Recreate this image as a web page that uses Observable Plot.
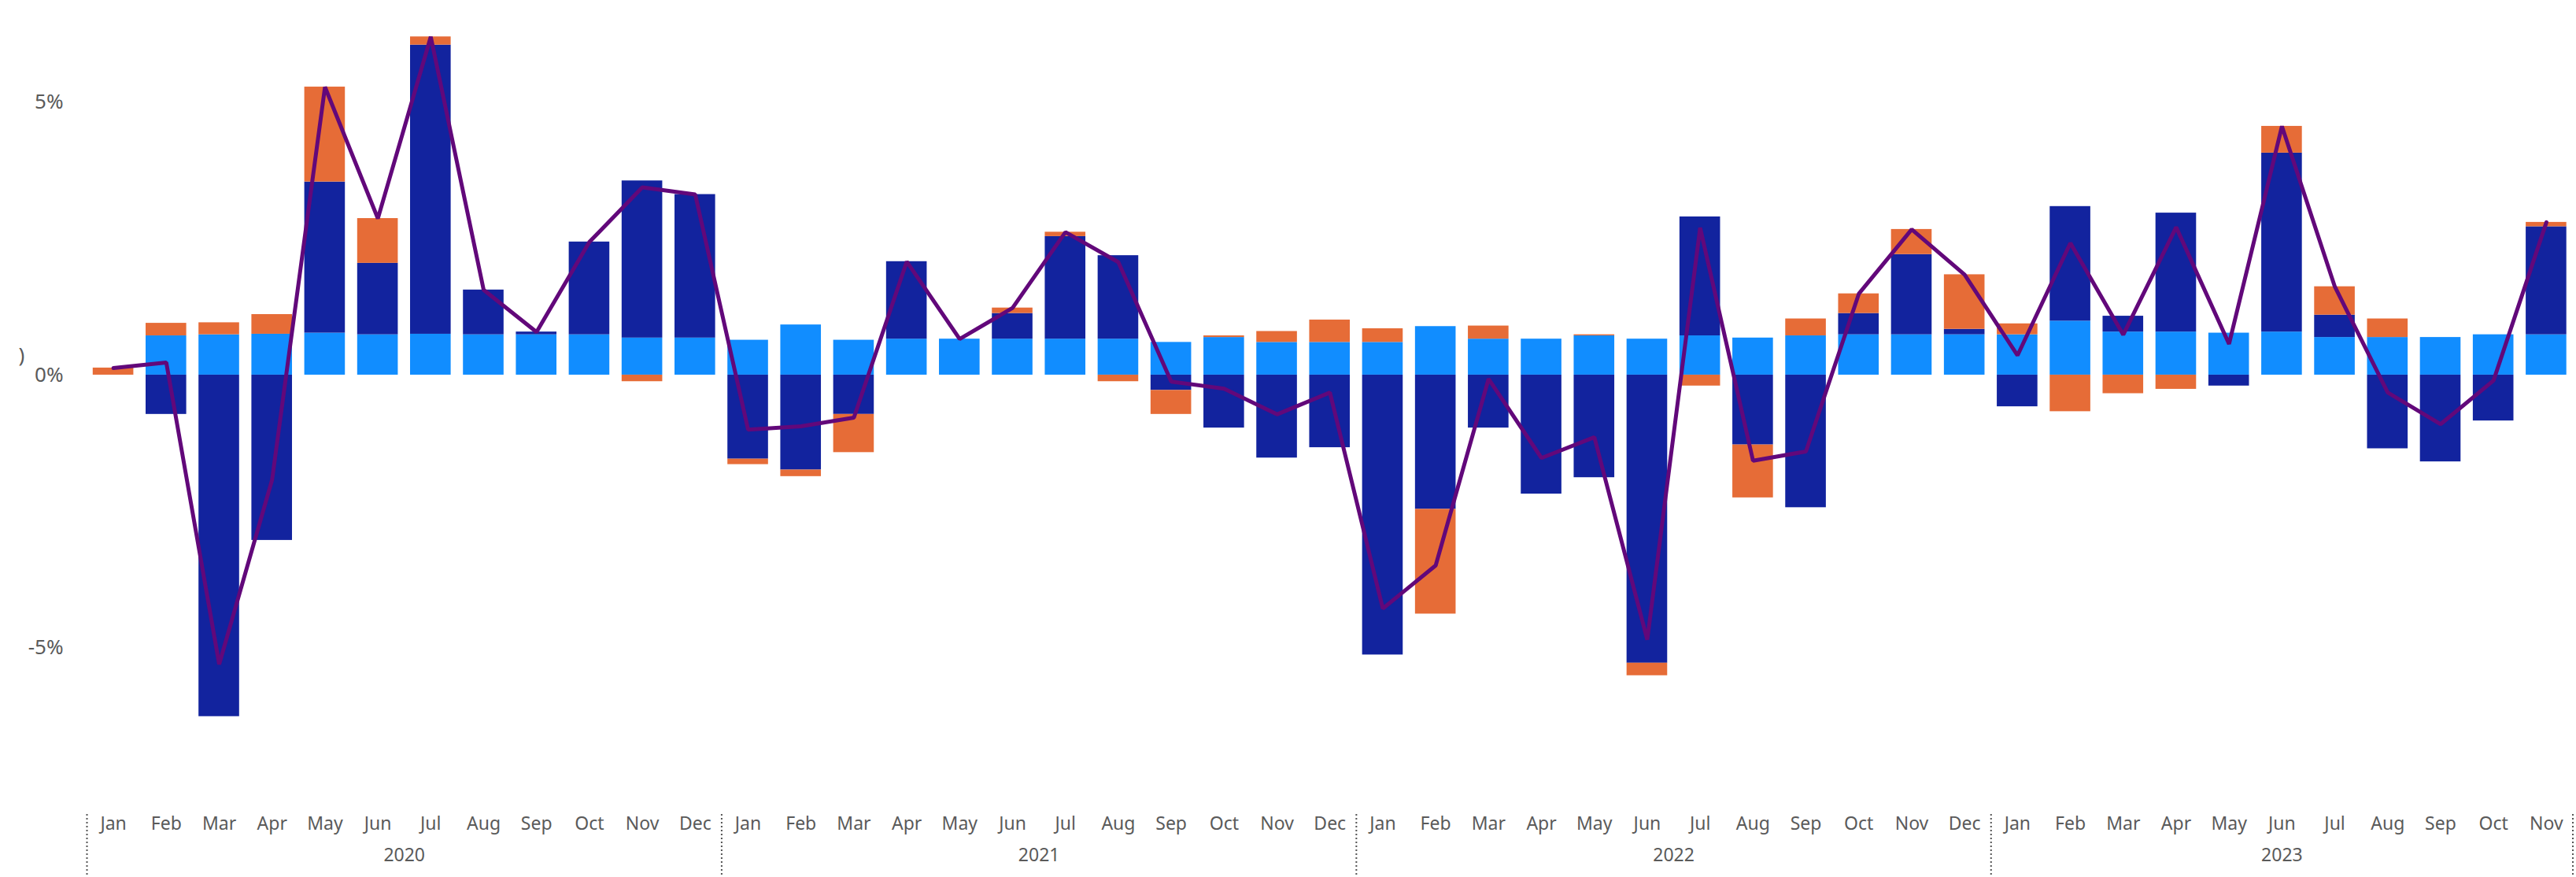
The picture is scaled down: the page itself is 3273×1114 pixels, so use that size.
<!DOCTYPE html>
<html>
<head>
<meta charset="utf-8">
<script src="https://cdn.jsdelivr.net/npm/d3@7"></script>
<script src="https://cdn.jsdelivr.net/npm/@observablehq/plot@0.6"></script>
<style>
  html, body { margin: 0; padding: 0; background: #ffffff; overflow: hidden; }
  #chart svg { display: block; }
</style>
</head>
<body>
<div id="chart"></div>
<script>
// ---- categories ----
const years = ["2020", "2021", "2022", "2023"];
const monthsInYear = [12, 12, 12, 11];
const monthNames = ["Jan","Feb","Mar","Apr","May","Jun","Jul","Aug","Sep","Oct","Nov","Dec"];

// ---- series names & colours ----
const seriesNames = ["Component A", "Component B", "Component C"];
const seriesColors = ["#118DFF", "#12239E", "#E66C37"];
const lineColor = "#62087A";

// ---- series values (% contribution), Jan 2020 .. Nov 2023 ----
const lightBlue = [
  0.00, 0.72, 0.74, 0.75, 0.77, 0.74, 0.75, 0.74, 0.74, 0.74, 0.68, 0.68,
  0.64, 0.92, 0.64, 0.66, 0.66, 0.66, 0.66, 0.66, 0.60, 0.69, 0.60, 0.60,
  0.60, 0.89, 0.66, 0.66, 0.72, 0.66, 0.72, 0.68, 0.72, 0.74, 0.74, 0.74,
  0.74, 0.99, 0.79, 0.79, 0.77, 0.79, 0.69, 0.69, 0.69, 0.74, 0.74
];
const darkBlue = [
  0.00, -0.72, -6.26, -3.03, 2.77, 1.31, 5.30, 0.82, 0.05, 1.70, 2.88, 2.63,
  -1.54, -1.74, -0.72, 1.42, 0.00, 0.47, 1.88, 1.53, -0.28, -0.97, -1.52, -1.33,
  -5.13, -2.46, -0.97, -2.18, -1.88, -5.28, 2.18, -1.28, -2.43, 0.39, 1.47, 0.10,
  -0.58, 2.10, 0.29, 2.18, -0.20, 3.28, 0.41, -1.35, -1.59, -0.84, 1.98
];
const orange = [
  0.13, 0.23, 0.22, 0.36, 1.74, 0.82, 0.15, 0.00, 0.00, 0.00, -0.12, 0.00,
  -0.10, -0.12, -0.70, 0.00, 0.00, 0.10, 0.08, -0.12, -0.44, 0.03, 0.20, 0.41,
  0.25, -1.92, 0.24, 0.00, 0.02, -0.23, -0.20, -0.97, 0.31, 0.36, 0.46, 1.00,
  0.20, -0.67, -0.34, -0.26, 0.00, 0.49, 0.52, 0.34, 0.00, 0.00, 0.08
];
const total = [
  0.13, 0.23, -5.30, -1.92, 5.28, 2.87, 6.20, 1.56, 0.79, 2.44, 3.44, 3.31,
  -1.00, -0.94, -0.78, 2.08, 0.66, 1.23, 2.62, 2.07, -0.12, -0.25, -0.72, -0.32,
  -4.28, -3.49, -0.07, -1.52, -1.14, -4.85, 2.70, -1.57, -1.40, 1.49, 2.67, 1.84,
  0.36, 2.42, 0.74, 2.71, 0.57, 4.56, 1.62, -0.32, -0.90, -0.10, 2.80
];
const yTicks = [-5, 0, 5];

// ---- build tables ----
const periods = [];
years.forEach((y, yi) => {
  for (let m = 0; m < monthsInYear[yi]; m++) periods.push({year: y, month: monthNames[m]});
});
periods.forEach((p, i) => p.i = i);

const seriesValues = [lightBlue, darkBlue, orange];
const rows = [];
seriesNames.forEach((s, si) => {
  periods.forEach((p, i) => rows.push({i, series: s, value: seriesValues[si][i]}));
});
const lineRows = periods.map((p, i) => ({i, total: total[i]}));

let start = 0;
const yearInfo = years.map((y, yi) => {
  const o = {year: y, start, end: start + monthsInYear[yi]};
  start += monthsInYear[yi];
  return o;
});
const boundaries = [0, ...yearInfo.map(d => d.end)];

const W = 3273, H = 1114;
const mTop = 25.5, mBottom = 153, mLeft = 110, mRight = 4.5;
const font = "'Segoe UI', 'Noto Sans', 'Open Sans', sans-serif";
const textColor = "#5a5a5a";

const chart = Plot.plot({
  width: W,
  height: H,
  marginTop: mTop,
  marginBottom: mBottom,
  marginLeft: mLeft,
  marginRight: mRight,
  style: {fontFamily: font, background: "#ffffff", color: textColor},
  x: {domain: [0, periods.length], axis: null},
  y: {domain: [-7, 6.5], axis: null},
  color: {domain: seriesNames, range: seriesColors},
  marks: [
    Plot.rectY(rows, {x: "i", interval: 1, y: "value", fill: "series", insetLeft: 7.8, insetRight: 7.8}),
    Plot.line(lineRows, {x: d => d.i + 0.5, y: "total", stroke: lineColor, strokeWidth: 5, strokeLinejoin: "miter"}),
    Plot.axisY({ticks: yTicks, tickFormat: d => `${d}%`, tickSize: 0, tickPadding: 30, fontSize: 26, fill: textColor}),
    Plot.text(periods, {x: d => d.i + 0.5, text: "month", frameAnchor: "bottom", dy: 92, fontSize: 23, fill: textColor}),
    Plot.text(yearInfo, {x: d => (d.start + d.end) / 2, text: "year", frameAnchor: "bottom", dy: 132, fontSize: 23, fill: textColor}),
    Plot.ruleX(boundaries, {x: d => d, insetTop: (H - mBottom - mTop) + 73, insetBottom: -mBottom, stroke: "#555555", strokeWidth: 2, strokeDasharray: "2,3"}),
    Plot.text([")"], {frameAnchor: "left", textAnchor: "middle", dx: -83, dy: -42, fontSize: 26, fill: textColor})
  ]
});
document.getElementById("chart").appendChild(chart);
</script>
</body>
</html>
